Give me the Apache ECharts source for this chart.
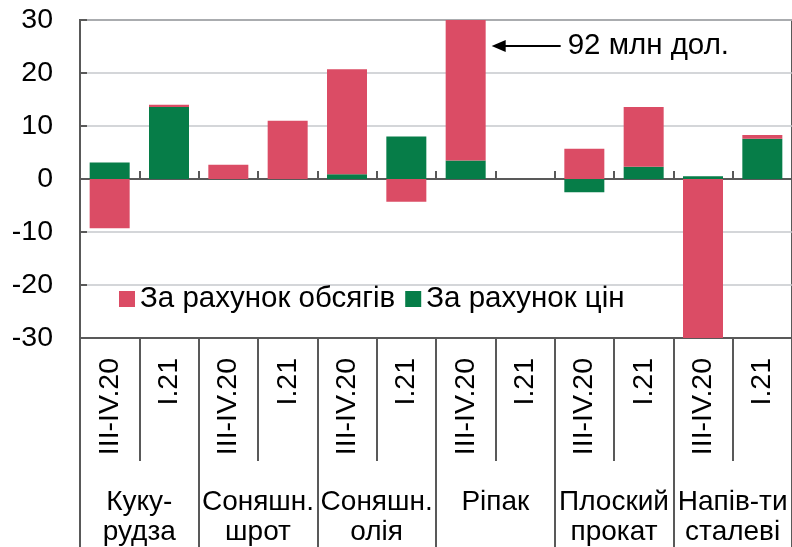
<!DOCTYPE html>
<html>
<head>
<meta charset="utf-8">
<script src="https://cdn.jsdelivr.net/npm/echarts@6/dist/echarts.min.js"></script>
<style>
html,body{margin:0;padding:0;background:#fff;}
#chart{width:792px;height:547px;}
</style>
</head>
<body>
<div id="chart"></div>
<script>
// ---- data ----
const periods = ['III-IV.20','I.21','III-IV.20','I.21','III-IV.20','I.21','III-IV.20','I.21','III-IV.20','I.21','III-IV.20','I.21'];
const groups = ['Куку-\nрудза','Соняшн.\nшрот','Соняшн.\nолія','Ріпак','Плоский\nпрокат','Напів-ти\nсталеві'];
const volumeName = 'За рахунок обсягів';
const priceName = 'За рахунок цін';
const volumeValues = [-9.3, 0.4, 2.7, 11.0, 19.8, -4.3, 88.5, 0, 5.7, 11.3, -31, 0.7];
const priceValues  = [3.1, 13.6, 0, 0, 0.9, 8.0, 3.5, 0, -2.5, 2.3, 0.5, 7.6];
const yTicks = {min: -30, max: 30, interval: 10};
const annotationText = '92 млн дол.';
const annotationIndex = 6;
const annotationValue = 25.1;

// ---- styles ----
const FONT = 'Liberation Sans, Arial, sans-serif';
const AXIS = '#595959';
const RED = '#DB4C65';
const GREEN = '#067D48';
const FS = 28.5;
const idx = periods.map((_, i) => i);

const chart = echarts.init(document.getElementById('chart'), null, {renderer: 'canvas'});
const option = {
  animation: false,
  textStyle: {fontFamily: FONT},
  grid: {left: 80, top: 20, width: 718, height: 320, show: true, borderColor: AXIS, borderWidth: 2, backgroundColor: 'transparent'},
  legend: {
    data: [volumeName, priceName],
    left: 114, top: 279,
    itemWidth: 16, itemHeight: 16, itemGap: 10,
    icon: 'rect',
    textStyle: {fontFamily: FONT, fontSize: 29.5, color: '#000'},
    selectedMode: false
  },
  xAxis: [
    {
      type: 'category', data: idx, position: 'bottom',
      axisLine: {onZero: true, lineStyle: {color: AXIS, width: 2}},
      axisTick: {show: true, inside: true, length: 8, interval: 0, lineStyle: {color: AXIS, width: 2}},
      axisLabel: {show: false},
      splitLine: {show: false}
    },
    {
      type: 'category', data: periods, position: 'bottom',
      axisLine: {onZero: false, lineStyle: {color: AXIS, width: 2}},
      axisTick: {show: true, length: 123, interval: 0, lineStyle: {color: AXIS, width: 2}},
      axisLabel: {show: true, interval: 0, rotate: 90, margin: 20, fontSize: FS, color: '#000', fontFamily: FONT},
      splitLine: {show: false}
    },
    {
      type: 'category', data: groups, position: 'bottom',
      axisLine: {onZero: false, show: false},
      axisTick: {show: true, length: 210, interval: 0, lineStyle: {color: AXIS, width: 2}},
      axisLabel: {show: true, interval: 0, margin: 149, fontSize: 28, lineHeight: 30, color: '#000', fontFamily: FONT, align: 'center'},
      splitLine: {show: false}
    }
  ],
  yAxis: {
    type: 'value', min: yTicks.min, max: yTicks.max, interval: yTicks.interval,
    axisLine: {show: true, lineStyle: {color: AXIS, width: 2}},
    axisTick: {show: true, inside: true, length: 7, lineStyle: {color: AXIS, width: 2}},
    axisLabel: {fontSize: 28.5, color: '#000', margin: 27, fontFamily: FONT},
    splitLine: {show: true, lineStyle: {color: '#C6C9CC', width: 1.5}}
  },
  series: [
    {
      name: priceName, type: 'bar', stack: 'total', xAxisIndex: 0,
      data: priceValues, barWidth: 40, itemStyle: {color: GREEN}, clip: true
    },
    {
      name: volumeName, type: 'bar', stack: 'total', xAxisIndex: 0,
      data: volumeValues, barWidth: 40, itemStyle: {color: RED}, clip: true
    }
  ]
};
chart.setOption(option);

// annotation positioned from data coordinates
const p = chart.convertToPixel({xAxisIndex: 0, yAxisIndex: 0}, [annotationIndex, annotationValue]);
const barRight = p[0] + 20;
const tipX = barRight + 6;
const y = p[1];
chart.setOption({
  graphic: [
    {type: 'polygon', shape: {points: [[tipX, y], [tipX + 14, y - 6], [tipX + 14, y + 6]]}, style: {fill: '#000'}},
    {type: 'line', shape: {x1: tipX + 12, y1: y, x2: tipX + 69, y2: y}, style: {stroke: '#000', lineWidth: 2}},
    {type: 'text', x: tipX + 76, y: y, style: {text: annotationText, fontSize: 29.5, fontFamily: FONT, fill: '#000', verticalAlign: 'middle', align: 'left'}}
  ]
});
</script>
</body>
</html>
